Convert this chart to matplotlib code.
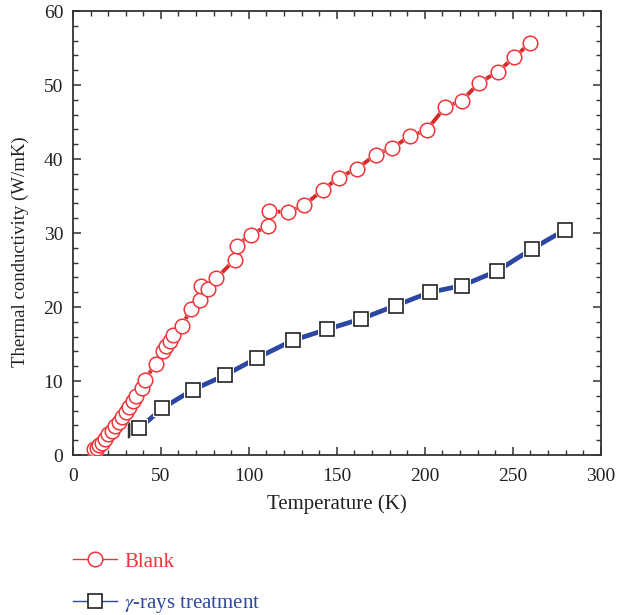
import matplotlib
matplotlib.use("Agg")
import matplotlib.pyplot as plt
from matplotlib.ticker import MultipleLocator

plt.rcParams['font.family'] = ['Liberation Serif', 'DejaVu Serif']
plt.rcParams['mathtext.fontset'] = 'stix'

# Blank sample
blank_T = [12, 13.5, 15, 16.5, 18, 20, 22, 24, 26, 28, 30, 32, 34, 36, 39, 41,
           47, 51, 53, 55, 57, 62, 67, 72, 73, 76.5, 81.5, 92, 93, 101, 111,
           111.5, 122, 131.5, 142, 151, 161.5, 172, 181.5, 191.5, 201, 211.5,
           221, 231, 241.5, 251, 260]
blank_k = [0.8, 1.0, 1.3, 1.7, 2.2, 2.8, 3.3, 3.9, 4.5, 5.1, 5.8, 6.5, 7.3, 8.0,
           9.0, 10.2, 12.3, 14.0, 14.8, 15.4, 16.2, 17.5, 19.7, 21.0, 22.8, 22.4,
           23.9, 26.4, 28.3, 29.8, 31.0, 33.0, 32.8, 33.8, 35.8, 37.5, 38.7, 40.6,
           41.5, 43.1, 43.9, 47.0, 47.9, 50.3, 51.8, 53.8, 55.7]

# Gamma-rays treated sample
gamma_T = [37.7, 50.6, 68.0, 86.5, 104.5, 124.9, 144.6, 163.7, 183.4, 202.9,
           221.2, 241.3, 261.2, 279.5]
gamma_k = [3.6, 6.3, 8.8, 10.8, 13.1, 15.5, 17.0, 18.4, 20.2, 22.0, 22.9, 24.9,
           27.9, 30.4]

# small cluster of low-temperature points of the treated sample
cluster_T = [31.3, 31.6, 31.9]
cluster_k_low = [2.3, 2.4, 2.5]
cluster_k_high = [4.4, 4.5, 4.3]

red_line = '#d42a2a'
red_mark = '#f0343a'
blue_line = '#2b46a3'
blue_text = '#2f4aa0'

fig = plt.figure(figsize=(6.18, 6.15), dpi=100)
ax = fig.add_axes([0.118, 0.260, 0.854, 0.722])

# red series
ax.plot(blank_T, blank_k, '-', color=red_line, lw=2.8, zorder=2)
ax.plot(blank_T, blank_k, 'o', ms=12, mfc='white', mec='white', mew=0, zorder=3)
ax.plot(blank_T, blank_k, 'o', ms=10.5, mfc='white', mec=red_mark, mew=1.1, zorder=4)

# blue series
ax.plot(gamma_T, gamma_k, '-', color=blue_line, lw=3.4, zorder=2)
ax.plot(gamma_T, gamma_k, 's', ms=12.5, mfc='white', mec='white', mew=0, zorder=3)
ax.plot(gamma_T, gamma_k, 's', ms=10.5, mfc='white', mec='#222222', mew=1.2, zorder=4)
ax.vlines(cluster_T, cluster_k_low, cluster_k_high, color='#333333', lw=1.0, zorder=5)

ax.set_xlim(0, 300)
ax.set_ylim(0, 60)
ax.xaxis.set_major_locator(MultipleLocator(50))
ax.xaxis.set_minor_locator(MultipleLocator(10))
ax.yaxis.set_major_locator(MultipleLocator(10))
ax.yaxis.set_minor_locator(MultipleLocator(2))
ax.tick_params(which='both', direction='in', top=True, right=True,
               colors='#333333', labelcolor='#222222', labelsize=14)
ax.tick_params(axis='x', which='major', pad=9)
ax.tick_params(axis='y', which='major', pad=7)
ax.tick_params(which='major', length=6, width=1.1)
ax.tick_params(which='minor', length=3.5, width=1.0)
for s in ax.spines.values():
    s.set_color('#333333')
    s.set_linewidth(1.3)

ax.set_xlabel('Temperature (K)', fontsize=15, color='#222222', labelpad=7)
ax.set_ylabel('Thermal conductivity (W/mK)', fontsize=13.5, color='#222222')
ax.yaxis.set_label_coords(-0.083, 0.457)

h1, = ax.plot([], [], '-o', color=red_mark, lw=1.0, ms=10.5, mfc='white',
              mec=red_mark, mew=1.1)
h2, = ax.plot([], [], '-s', color=blue_line, lw=1.0, ms=10.5, mfc='white',
              mec='#222222', mew=1.2)
leg = fig.legend([h1, h2], ['Blank', r'$\gamma$-rays treatment'],
                 loc='upper left', bbox_to_anchor=(0.088, 0.133),
                 frameon=False, fontsize=15, handlelength=2.1,
                 labelspacing=1.05, handletextpad=0.35,
                 labelcolor=[red_mark, blue_text])

fig.savefig('out.png', dpi=100)
